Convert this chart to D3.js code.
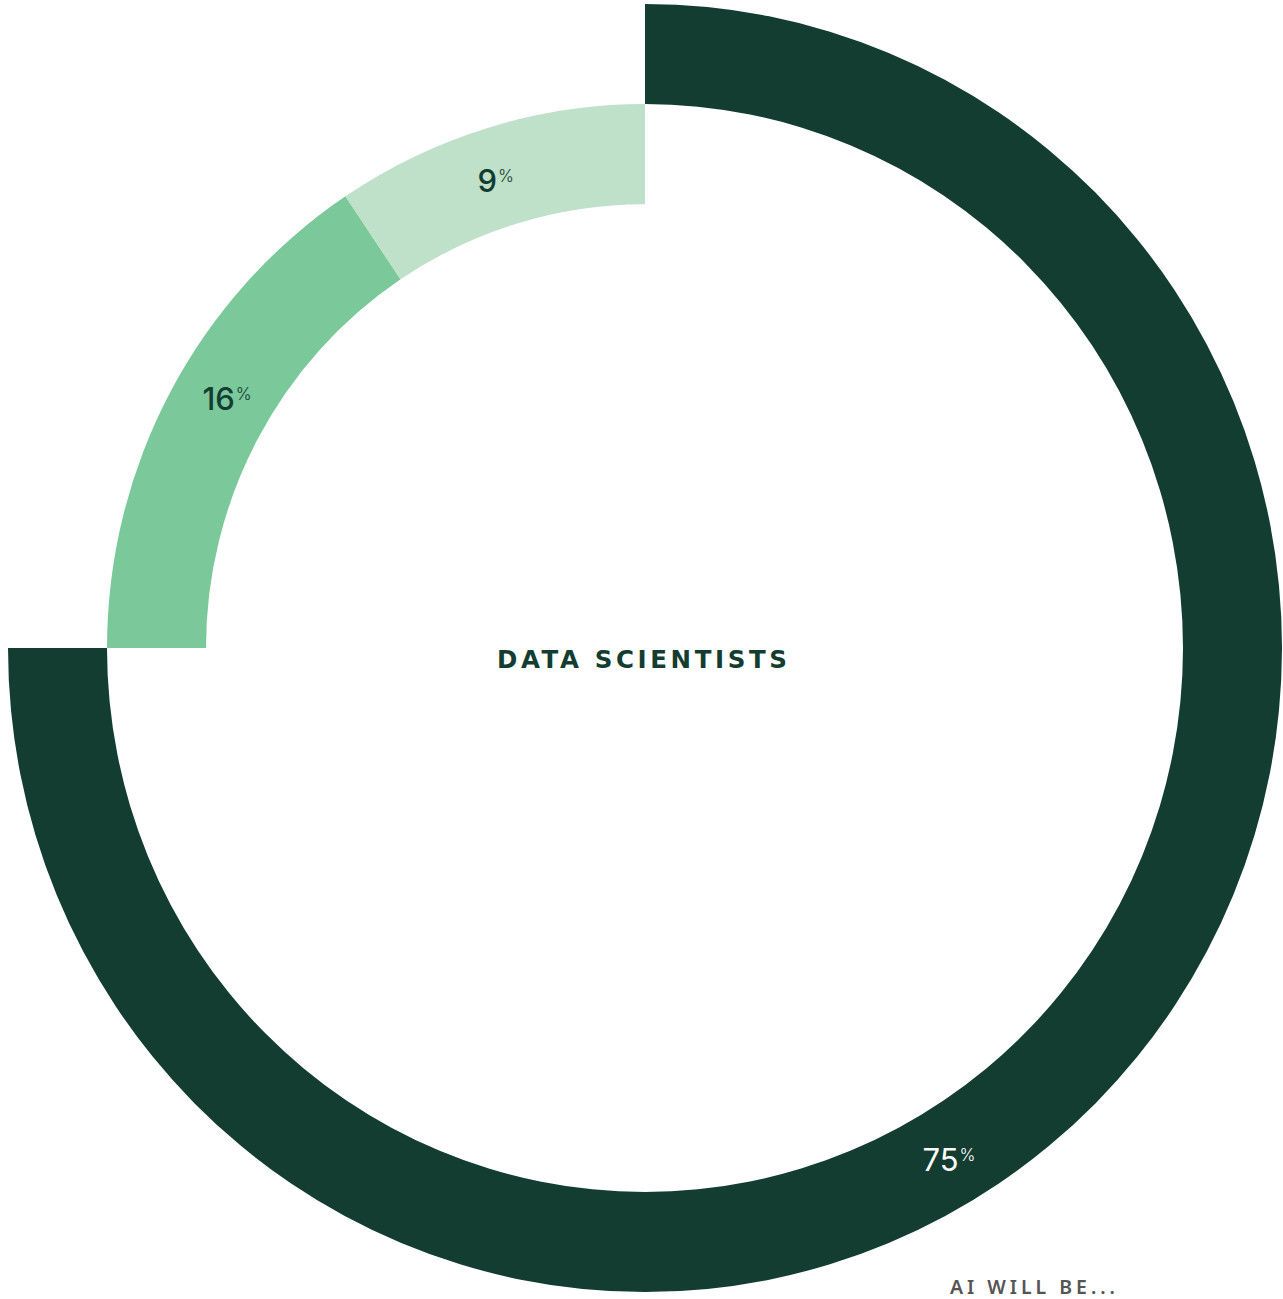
<!DOCTYPE html>
<html>
<head>
<meta charset="utf-8">
<script src="https://cdn.jsdelivr.net/npm/d3@7"></script>
<style>
  html, body { margin: 0; padding: 0; background: #fff; }
  svg { display: block; }
</style>
</head>
<body>
<script>
var categories = ['AI will be a big help', 'AI will be a small help', 'AI will not help'];
var values = [75, 15.6, 9.4];
var colors = ['#133d30', '#7bc89b', '#bfe0c9'];
var labelColors = ['#ffffff', '#133d30', '#133d30'];
var centerTitle = 'DATA SCIENTISTS';
var footnote = 'AI WILL BE...';

var width = 1283;
var height = 1299;

var cx = 645;
var cy = 648;
var stretchY = 1.011;
var outerR = 637;
var band = 99;

var svg = d3.select('body').append('svg')
  .attr('width', width)
  .attr('height', height);

var rows = categories.map(function(c, i) {
  return {name: c, value: values[i], index: i};
});

var pie = d3.pie()
  .sort(null)
  .value(function(d) { return d.value; });

var slices = pie(rows);

// the big slice sits on the outer ring, the others one band in
function ringOf(d) {
  return d.index === 0 ? 0 : 1;
}

var arc = d3.arc()
  .outerRadius(function(d) { return outerR - ringOf(d.data) * band; })
  .innerRadius(function(d) { return outerR - (ringOf(d.data) + 1) * band; });

var g = svg.append('g')
  .attr('transform', 'translate(' + cx + ',' + cy + ') scale(1,' + stretchY + ')');

g.selectAll('.slice')
  .data(slices)
  .enter().append('path')
    .attr('class', 'slice')
    .attr('d', arc)
    .attr('fill', function(d) { return colors[d.data.index]; });

// where along each slice its label sits (by slice index)
var labelAlong = [0.552, 0.543, 0.47];

function labelPoint(d) {
  var t = labelAlong[d.data.index];
  var a = d.startAngle + (d.endAngle - d.startAngle) * t;
  var r = outerR - (ringOf(d.data) + 0.5) * band + (ringOf(d.data) ? -3.5 : 3.3);
  return [cx + r * Math.sin(a), cy - r * Math.cos(a) * stretchY];
}

var labels = svg.selectAll('.pct')
  .data(slices)
  .enter().append('text')
    .attr('class', 'pct')
    .attr('x', function(d) { return labelPoint(d)[0]; })
    .attr('y', function(d) { return labelPoint(d)[1] + 11; })
    .attr('text-anchor', 'middle')
    .attr('font-family', 'Inter, "Noto Sans", sans-serif')
    .attr('font-weight', function(d) { return d.data.index === 0 ? 400 : 500; })
    .attr('font-size', 31)
    .attr('fill', function(d) { return labelColors[d.data.index]; });

labels.append('tspan')
  .text(function(d) { return Math.round(d.data.value); });

labels.append('tspan')
  .attr('font-size', 17)
  .attr('font-weight', 300)
  .attr('dx', 1)
  .attr('dy', -10)
  .text('%');

svg.append('text')
  .attr('x', 642)
  .attr('y', 668)
  .attr('text-anchor', 'middle')
  .attr('font-family', '"DejaVu Sans", sans-serif')
  .attr('font-weight', 700)
  .attr('font-size', 24.5)
  .attr('textLength', 290)
  .attr('lengthAdjust', 'spacing')
  .attr('fill', '#133d30')
  .text(centerTitle);

svg.append('text')
  .attr('x', 950)
  .attr('y', 1294)
  .attr('font-family', '"Noto Sans", sans-serif')
  .attr('font-weight', 600)
  .attr('font-size', 19.5)
  .attr('textLength', 165)
  .attr('lengthAdjust', 'spacing')
  .attr('fill', '#555555')
  .text(footnote);
</script>
</body>
</html>
